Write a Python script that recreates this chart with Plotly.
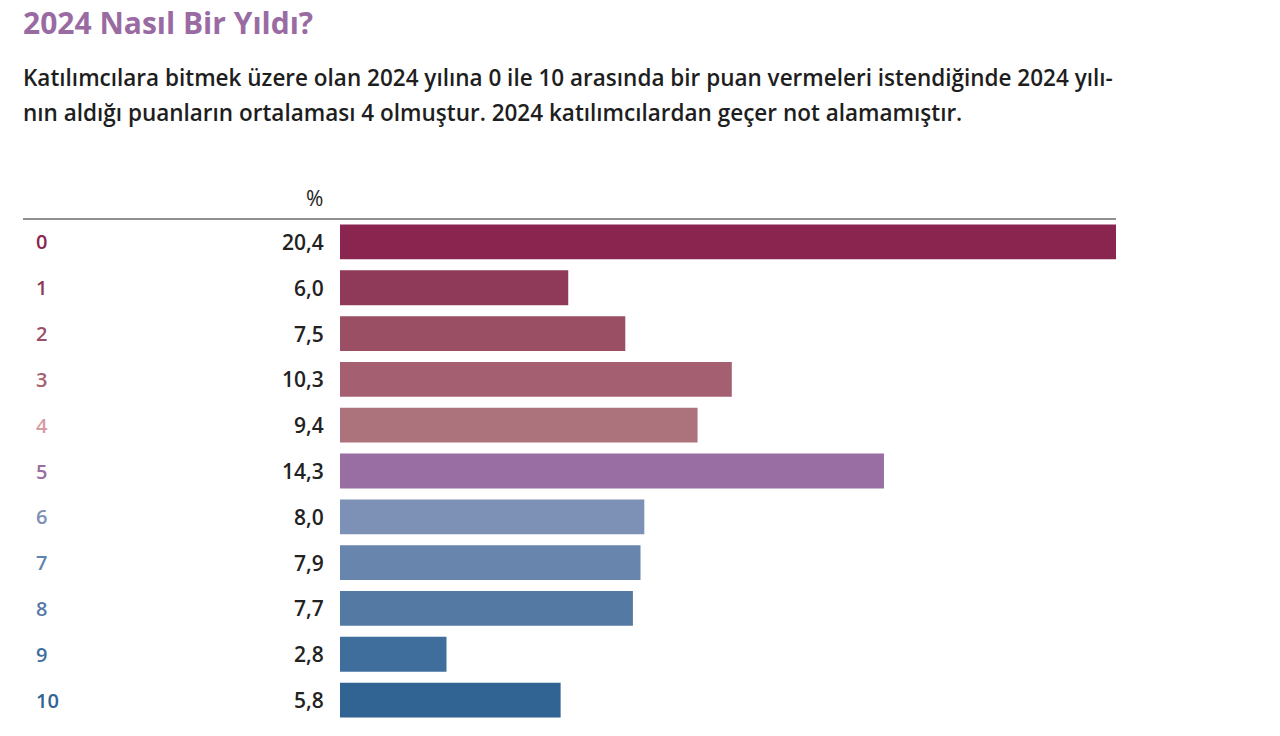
import plotly.graph_objects as go

categories = ["0", "1", "2", "3", "4", "5", "6", "7", "8", "9", "10"]
values = [20.4, 6.0, 7.5, 10.3, 9.4, 14.3, 8.0, 7.9, 7.7, 2.8, 5.8]
value_labels = ["20,4", "6,0", "7,5", "10,3", "9,4", "14,3", "8,0", "7,9", "7,7", "2,8", "5,8"]
bar_colors = ["#8A2550", "#8E3A58", "#9A4F65", "#A46070", "#AD737D", "#986EA3",
              "#7D90B5", "#6885AD", "#5479A3", "#3F6E9C", "#316393"]
label_colors = ["#8A2550", "#8E3A58", "#9A4F65", "#A46070", "#D79BA2", "#986EA3",
                "#7D90B5", "#5F82AE", "#5479A3", "#3F6E9C", "#316393"]

title = "2024 Nasıl Bir Yıldı?"
subtitle1 = "Katılımcılara bitmek üzere olan 2024 yılına 0 ile 10 arasında bir puan vermeleri istendiğinde 2024 yılı-"
subtitle2 = "nın aldığı puanların ortalaması 4 olmuştur. 2024 katılımcılardan geçer not alamamıştır."

W, H = 1280, 736
OFF = 0  # page body margin removed via post_script
FONT = "Open Sans"

fig = go.Figure()
fig.add_trace(go.Bar(
    x=values, y=categories, orientation="h",
    marker=dict(color=bar_colors, line=dict(width=0)),
    width=0.76, hoverinfo="skip",
))

def px_x(p):
    return (p - OFF) / W

def px_y(p):
    return 1 - (p - OFF) / H

fig.update_layout(
    width=W, height=H,
    margin=dict(l=0, r=0, t=0, b=0),
    paper_bgcolor="white", plot_bgcolor="white",
    showlegend=False,
    xaxis=dict(domain=[px_x(340), px_x(1116)], range=[0, max(values)],
               visible=False, fixedrange=True),
    yaxis=dict(domain=[px_y(723), px_y(219)], autorange="reversed",
               visible=False, type="category", fixedrange=True),
)

annotations = []
annotations.append(dict(text=f"<b>{title}</b>", x=px_x(21), y=px_y(22.5), xref="paper", yref="paper",
                        xanchor="left", yanchor="middle", showarrow=False,
                        font=dict(family=FONT, size=30, color="#9A6BA3")))
for txt, yy in [(subtitle1, 78), (subtitle2, 113)]:
    annotations.append(dict(text=txt, x=px_x(21), y=px_y(yy), xref="paper", yref="paper",
                            xanchor="left", yanchor="middle", showarrow=False,
                            font=dict(family=FONT, size=22.5, color="#1E1E1E", weight=600)))
annotations.append(dict(text="%", x=px_x(325), y=px_y(198), xref="paper", yref="paper",
                        xanchor="right", yanchor="middle", showarrow=False,
                        font=dict(family=FONT, size=21, color="#222222")))
for cat, val_lab, col in zip(categories, value_labels, label_colors):
    annotations.append(dict(text=cat, x=px_x(34), y=cat, xref="paper", yref="y",
                            xanchor="left", yanchor="middle", showarrow=False,
                            font=dict(family=FONT, size=20, color=col, weight=600)))
    annotations.append(dict(text=val_lab, x=px_x(326), y=cat, xref="paper", yref="y",
                            xanchor="right", yanchor="middle", showarrow=False,
                            font=dict(family=FONT, size=21, color="#222222", weight=600)))
fig.update_layout(annotations=annotations)

fig.add_shape(type="line", xref="paper", yref="paper",
              x0=px_x(23), x1=px_x(1116), y0=px_y(219), y1=px_y(219),
              line=dict(color="#6B6B6B", width=1.5))

fig.write_html("out.html", config={"displayModeBar": False},
               post_script="document.body.style.margin='0';")
